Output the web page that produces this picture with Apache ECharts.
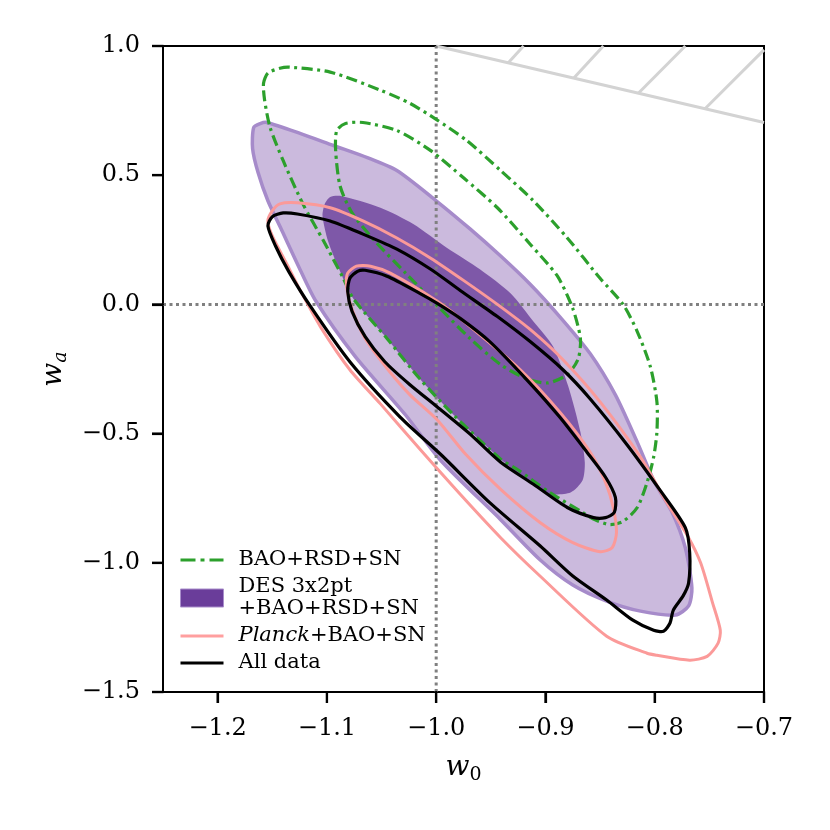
<!DOCTYPE html>
<html>
<head>
<meta charset="utf-8">
<script src="https://cdn.jsdelivr.net/npm/echarts@6/dist/echarts.min.js"></script>
<style>
  html, body { margin: 0; padding: 0; background: #fff; }
  #chart { width: 830px; height: 830px; }
</style>
</head>
<body>
<div id="chart"></div>
<script>
// tick values
const w0Ticks = [-1.2, -1.1, -1.0, -0.9, -0.8, -0.7];
const waTicks = [-1.5, -1.0, -0.5, 0.0, 0.5, 1.0];

// excluded corner, boundary + hatch strokes
const boundaryLine = [[-1.0, 1.0], [-0.7, 0.704]];
const hatchBase = [[-0.934, 0.935], [-0.874, 0.876], [-0.815, 0.817], [-0.754, 0.757]];
const hatchTip = [[-0.920, 1.0], [-0.847, 1.0], [-0.772, 1.0], [-0.700, 0.985]];

// BAO+RSD+SN contours [w0, wa]
const baoOuter = [
  [-1.158, 0.856], [-1.154, 0.895], [-1.143, 0.914], [-1.134, 0.918], [-1.097, 0.899], [-1.051, 0.829],
  [-1.024, 0.778], [-1.000, 0.716], [-0.972, 0.634], [-0.941, 0.518], [-0.911, 0.401], [-0.880, 0.257],
  [-0.850, 0.101], [-0.829, 0.000], [-0.816, -0.105], [-0.804, -0.241], [-0.798, -0.377], [-0.798, -0.494],
  [-0.801, -0.591], [-0.807, -0.689], [-0.816, -0.786], [-0.829, -0.840], [-0.841, -0.852], [-0.855, -0.833],
  [-0.866, -0.805], [-0.896, -0.728], [-0.926, -0.638], [-0.941, -0.599], [-0.984, -0.428], [-1.015, -0.288],
  [-1.045, -0.132], [-1.076, 0.023], [-1.085, 0.101], [-1.103, 0.245], [-1.122, 0.389], [-1.140, 0.556],
  [-1.152, 0.685], [-1.157, 0.790]
];
const baoInner = [
  [-1.092, 0.595], [-1.091, 0.673], [-1.083, 0.700], [-1.067, 0.704], [-1.036, 0.673], [-1.005, 0.595],
  [-0.975, 0.490], [-0.944, 0.374], [-0.914, 0.233], [-0.889, 0.109], [-0.875, -0.016], [-0.868, -0.132],
  [-0.870, -0.210], [-0.880, -0.272], [-0.898, -0.304], [-0.917, -0.288], [-0.941, -0.233], [-0.969, -0.132],
  [-1.000, 0.000], [-1.028, 0.121], [-1.056, 0.245], [-1.077, 0.354], [-1.088, 0.459]
];

// DES 3x2pt + BAO+RSD+SN contours
const desOuter = [
  [-1.167, 0.685], [-1.161, 0.700], [-1.155, 0.704], [-1.124, 0.661], [-1.094, 0.615], [-1.063, 0.568],
  [-1.036, 0.518], [-1.000, 0.401], [-0.969, 0.292], [-0.941, 0.187], [-0.914, 0.078], [-0.887, -0.047],
  [-0.859, -0.191], [-0.836, -0.350], [-0.816, -0.533], [-0.800, -0.689], [-0.784, -0.805], [-0.772, -0.942],
  [-0.766, -1.097], [-0.769, -1.167], [-0.781, -1.202], [-0.813, -1.187], [-0.844, -1.148], [-0.875, -1.086],
  [-0.905, -0.988], [-0.941, -0.833], [-0.996, -0.603], [-1.028, -0.428], [-1.074, -0.202], [-1.110, 0.012],
  [-1.126, 0.148], [-1.141, 0.284], [-1.154, 0.401], [-1.163, 0.510], [-1.168, 0.603]
];
const desInner = [
  [-1.104, 0.342], [-1.102, 0.389], [-1.097, 0.416], [-1.088, 0.420], [-1.051, 0.374], [-1.021, 0.311],
  [-0.990, 0.218], [-0.960, 0.136], [-0.932, 0.043], [-0.911, -0.066], [-0.893, -0.163], [-0.879, -0.319],
  [-0.868, -0.494], [-0.864, -0.611], [-0.866, -0.681], [-0.877, -0.728], [-0.898, -0.732], [-0.923, -0.658],
  [-0.941, -0.599], [-0.984, -0.428], [-1.015, -0.288], [-1.045, -0.132], [-1.076, 0.023], [-1.088, 0.128],
  [-1.099, 0.245]
];

// Planck+BAO+SN contours
const planckOuter = [
  [-1.154, 0.323], [-1.150, 0.362], [-1.143, 0.389], [-1.127, 0.393], [-1.097, 0.374], [-1.067, 0.323],
  [-1.036, 0.257], [-1.005, 0.179], [-0.975, 0.093], [-0.944, 0.000], [-0.914, -0.097], [-0.884, -0.214],
  [-0.850, -0.377], [-0.813, -0.591], [-0.789, -0.767], [-0.770, -0.895], [-0.758, -1.000], [-0.747, -1.156],
  [-0.740, -1.261], [-0.742, -1.311], [-0.752, -1.362], [-0.768, -1.377], [-0.798, -1.358], [-0.807, -1.350],
  [-0.844, -1.284], [-0.905, -1.051], [-0.941, -0.903], [-0.978, -0.735], [-1.015, -0.560], [-1.051, -0.385],
  [-1.079, -0.253], [-1.106, -0.086], [-1.124, 0.051], [-1.138, 0.167], [-1.150, 0.265]
];
const planckInner = [
  [-1.082, 0.070], [-1.081, 0.121], [-1.073, 0.148], [-1.060, 0.148], [-1.042, 0.121], [-0.999, 0.012],
  [-0.969, -0.086], [-0.923, -0.253], [-0.887, -0.416], [-0.859, -0.572], [-0.845, -0.689], [-0.838, -0.786],
  [-0.835, -0.883], [-0.839, -0.942], [-0.850, -0.957], [-0.875, -0.922], [-0.905, -0.844], [-0.941, -0.716],
  [-0.973, -0.580], [-0.999, -0.447], [-1.024, -0.350], [-1.044, -0.253], [-1.065, -0.132], [-1.077, -0.019]
];

// All data contours
const allOuter = [
  [-1.154, 0.304], [-1.150, 0.339], [-1.140, 0.354], [-1.127, 0.350], [-1.097, 0.323], [-1.067, 0.272],
  [-1.036, 0.214], [-1.005, 0.136], [-0.978, 0.054], [-0.944, -0.047], [-0.914, -0.144], [-0.884, -0.253],
  [-0.859, -0.366], [-0.825, -0.545], [-0.795, -0.720], [-0.772, -0.864], [-0.768, -0.961], [-0.769, -1.078],
  [-0.774, -1.128], [-0.783, -1.183], [-0.786, -1.233], [-0.792, -1.265], [-0.801, -1.261], [-0.820, -1.222],
  [-0.844, -1.144], [-0.875, -1.051], [-0.905, -0.934], [-0.951, -0.767], [-0.996, -0.580], [-1.033, -0.436],
  [-1.079, -0.222], [-1.115, -0.008], [-1.135, 0.128], [-1.147, 0.226]
];
const allInner = [
  [-1.081, 0.051], [-1.079, 0.101], [-1.072, 0.128], [-1.065, 0.132], [-1.045, 0.109], [-1.015, 0.043],
  [-0.999, 0.004], [-0.978, -0.054], [-0.951, -0.144], [-0.917, -0.292], [-0.887, -0.436], [-0.862, -0.572],
  [-0.845, -0.669], [-0.836, -0.747], [-0.837, -0.805], [-0.845, -0.825], [-0.856, -0.825], [-0.880, -0.786],
  [-0.911, -0.696], [-0.941, -0.611], [-0.969, -0.502], [-0.999, -0.397], [-1.024, -0.311], [-1.047, -0.222],
  [-1.065, -0.125], [-1.077, -0.027]
];

const FONT = 'DejaVu Serif';
const GREEN = '#2ca02c';
const PINK = '#fb9a99';
const TICK_LEN = 11;

const lineIcon = 'path://M0,0M43,18M0,7.4h43v3.2h-43z';
const dashDotIcon = 'path://M0,0M43,18M0,7.6h15v2.8h-15zM20,7.6h4v2.8h-4zM29,7.6h14v2.8h-14z';

const fmtTick = (v) => (v < 0 ? '\u2212' : '') + Math.abs(v).toFixed(1);

// closed contour drawn as a smoothed polygon through the axes
function contour(name, pts, style) {
  return {
    type: 'custom',
    name: name,
    coordinateSystem: 'cartesian2d',
    silent: true,
    data: [pts[0]],
    renderItem: function (params, api) {
      return {
        type: 'polygon',
        shape: { points: pts.map((p) => api.coord(p)), smooth: 0.25 },
        style: style
      };
    }
  };
}

const chart = echarts.init(document.getElementById('chart'));

const option = {
  animation: false,
  grid: {
    left: 163, right: 66, top: 46, bottom: 138,
    show: true, borderColor: '#000', borderWidth: 2
  },
  xAxis: {
    type: 'value', min: -1.25, max: -0.7,
    name: '{w|w}{s|0}', nameLocation: 'middle', nameGap: 58,
    nameTextStyle: {
      rich: {
        w: { fontFamily: FONT, fontSize: 28, fontStyle: 'italic', color: '#000' },
        s: { fontFamily: FONT, fontSize: 19, color: '#000', padding: [16, 0, 0, 0] }
      }
    },
    axisLine: { show: true, onZero: false, lineStyle: { color: '#000', width: 2 } },
    axisTick: { show: true, length: TICK_LEN, lineStyle: { color: '#000', width: 2.2 }, customValues: w0Ticks },
    axisLabel: {
      customValues: w0Ticks, formatter: fmtTick, margin: 25,
      fontFamily: FONT, fontSize: 24, color: '#000'
    },
    splitLine: { show: false }
  },
  yAxis: {
    type: 'value', min: -1.5, max: 1.0, interval: 0.5,
    name: '{w|w}{s|a}', nameLocation: 'middle', nameGap: 92, nameRotate: 90,
    nameTextStyle: {
      rich: {
        w: { fontFamily: FONT, fontSize: 28, fontStyle: 'italic', color: '#000' },
        s: { fontFamily: FONT, fontSize: 19, fontStyle: 'italic', color: '#000', padding: [16, 0, 0, 0] }
      }
    },
    axisLine: { show: true, onZero: false, lineStyle: { color: '#000', width: 2 } },
    axisTick: { show: true, length: TICK_LEN, lineStyle: { color: '#000', width: 2.2 } },
    axisLabel: {
      formatter: fmtTick, margin: 23,
      fontFamily: FONT, fontSize: 24, color: '#000'
    },
    splitLine: { show: false }
  },
  legend: {
    orient: 'vertical', left: 175, top: 544,
    itemWidth: 43, itemHeight: 18, itemGap: 5,
    selectedMode: false,
    textStyle: {
      fontFamily: FONT, fontSize: 21, color: '#000', lineHeight: 22,
      padding: [0, 0, 0, 10],
      rich: {
        i: { fontFamily: FONT, fontSize: 21, fontStyle: 'italic', color: '#000', lineHeight: 22 },
        n: { fontFamily: FONT, fontSize: 21, color: '#000', lineHeight: 22 }
      }
    },
    formatter: function (name) {
      if (name.indexOf('Planck') === 0) return '{i|Planck}{n|+BAO+SN}';
      if (name.indexOf('DES') === 0) return 'DES 3x2pt\n+BAO+RSD+SN';
      return name;
    },
    data: [
      { name: 'BAO+RSD+SN', icon: dashDotIcon, itemStyle: { color: GREEN } },
      { name: 'DES 3x2pt +BAO+RSD+SN', icon: 'rect', itemStyle: { color: '#6a3d9a', borderColor: '#a98ecb', borderWidth: 1 } },
      { name: 'Planck+BAO+SN', icon: lineIcon, itemStyle: { color: '#ff9f9f' } },
      { name: 'All data', icon: lineIcon, itemStyle: { color: '#000' } }
    ]
  },
  series: [
    {
      type: 'custom', coordinateSystem: 'cartesian2d', silent: true,
      data: [boundaryLine[0]],
      renderItem: function (params, api) {
        const st = { stroke: '#d3d3d3', lineWidth: 3 };
        const a0 = api.coord(boundaryLine[0]);
        const b0 = api.coord(boundaryLine[1]);
        const children = [{ type: 'line', shape: { x1: a0[0], y1: a0[1], x2: b0[0], y2: b0[1] }, style: st }];
        hatchBase.forEach(function (p, i) {
          const a = api.coord(p);
          const b = api.coord(hatchTip[i]);
          children.push({ type: 'line', shape: { x1: a[0], y1: a[1], x2: b[0], y2: b[1] }, style: st });
        });
        return { type: 'group', children: children };
      }
    },
    contour('DES 3x2pt +BAO+RSD+SN', desOuter, { fill: '#cbbadd', stroke: '#a68bca', lineWidth: 3.5 }),
    contour('DES 3x2pt +BAO+RSD+SN', desInner, { fill: '#7e58a8', stroke: 'none' }),
    {
      type: 'custom', coordinateSystem: 'cartesian2d', silent: true,
      data: [[-1.0, 0.0]],
      renderItem: function (params, api) {
        const a = api.coord([-1.0, -1.5]);
        const b = api.coord([-1.0, 1.0]);
        const c = api.coord([-1.25, 0.0]);
        const d = api.coord([-0.7, 0.0]);
        const st = { stroke: '#808080', lineWidth: 3, lineDash: [3, 3.5] };
        return {
          type: 'group', children: [
            { type: 'line', shape: { x1: a[0], y1: a[1], x2: b[0], y2: b[1] }, style: st },
            { type: 'line', shape: { x1: c[0], y1: c[1], x2: d[0], y2: d[1] }, style: st }
          ]
        };
      }
    },
    contour('BAO+RSD+SN', baoOuter, { fill: 'none', stroke: GREEN, lineWidth: 3.2, lineDash: [11, 4.5, 3, 4.5] }),
    contour('BAO+RSD+SN', baoInner, { fill: 'none', stroke: GREEN, lineWidth: 3.2, lineDash: [11, 4.5, 3, 4.5] }),
    contour('Planck+BAO+SN', planckOuter, { fill: 'none', stroke: PINK, lineWidth: 3 }),
    contour('Planck+BAO+SN', planckInner, { fill: 'none', stroke: PINK, lineWidth: 3 }),
    contour('All data', allOuter, { fill: 'none', stroke: '#000', lineWidth: 3.2 }),
    contour('All data', allInner, { fill: 'none', stroke: '#000', lineWidth: 3.2 }),
    // outward tick marks on the bottom and left axes, on their own layer
    {
      type: 'custom', coordinateSystem: 'cartesian2d', silent: true, clip: false,
      zlevel: 1, z: 100,
      data: [[-1.0, 0.0]],
      renderItem: function (params, api) {
        const st = { stroke: '#000', lineWidth: 2.2 };
        const children = [];
        w0Ticks.forEach(function (v) {
          const p = api.coord([v, -1.5]);
          children.push({ type: 'line', shape: { x1: p[0], y1: p[1] - 1, x2: p[0], y2: p[1] + TICK_LEN }, style: st });
        });
        waTicks.forEach(function (v) {
          const p = api.coord([-1.25, v]);
          children.push({ type: 'line', shape: { x1: p[0] + 1, y1: p[1], x2: p[0] - TICK_LEN, y2: p[1] }, style: st });
        });
        return { type: 'group', children: children };
      }
    }
  ]
};

chart.setOption(option);
</script>
</body>
</html>
